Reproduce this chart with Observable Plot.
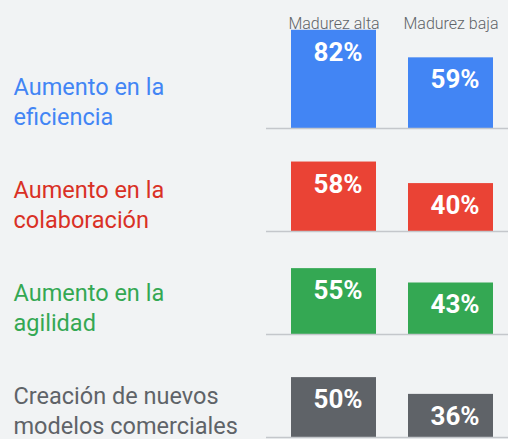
<!DOCTYPE html>
<html>
<head>
<meta charset="utf-8">
<script src="https://cdn.jsdelivr.net/npm/d3@7"></script>
<script src="https://cdn.jsdelivr.net/npm/@observablehq/plot@0.6"></script>
<style>
  html, body { margin: 0; padding: 0; background: #f1f3f4; }
  #chart { width: 508px; height: 439px; }
</style>
</head>
<body>
<div id="chart"></div>
<script>
const categories = [
  "Aumento en la\neficiencia",
  "Aumento en la\ncolaboración",
  "Aumento en la\nagilidad",
  "Creación de nuevos\nmodelos comerciales"
];
const maturity = ["Madurez alta", "Madurez baja"];
const alta = [82, 58, 55, 50];
const baja = [59, 40, 43, 36];
const barColors = ["#4285f4", "#ea4335", "#34a853", "#5f6368"];
const labelColors = ["#4285f4", "#d93025", "#34a853", "#5f6368"];

const bars = [];
categories.forEach((c, i) => {
  bars.push({category: c, maturity: maturity[0], value: alta[i], color: barColors[i]});
  bars.push({category: c, maturity: maturity[1], value: baja[i], color: barColors[i]});
});
const rows = categories.map((c, i) => ({category: c, color: labelColors[i]}));

const chart = Plot.plot({
  width: 508,
  height: 439,
  marginTop: 24,
  marginBottom: 2,
  marginLeft: 290,
  marginRight: 14,
  style: {fontFamily: "Roboto", background: "#f1f3f4"},
  fy: {domain: categories, padding: 0, axis: null},
  x: {domain: maturity, paddingInner: 0.271, paddingOuter: 0, axis: null},
  y: {domain: [0, 86], axis: null},
  color: {type: "identity"},
  marks: [
    Plot.barY(bars, {fy: "category", x: "maturity", y: "value", fill: "color"}),
    Plot.ruleY([0], {stroke: "#c4c7cb", strokeWidth: 1.5, insetLeft: -24, insetRight: -14}),
    Plot.text(bars, {
      fy: "category", x: "maturity", y: "value",
      text: d => d.value + "%",
      fill: "white", fontWeight: "bold", fontSize: 26,
      lineAnchor: "top", dy: 12, dx: 4
    }),
    Plot.text(rows, {
      fy: "category", text: "category", fill: "color",
      frameAnchor: "bottom-left", textAnchor: "start", lineAnchor: "bottom",
      lineHeight: 1.25, fontSize: 23.5, dx: -277, dy: -4
    }),
    Plot.axisX({anchor: "top", tickSize: 0, tickPadding: 0, dy: 3, fontSize: 16, fontWeight: 300, fill: "#5f6368", label: null})
  ]
});
document.getElementById("chart").appendChild(chart);
</script>
</body>
</html>
